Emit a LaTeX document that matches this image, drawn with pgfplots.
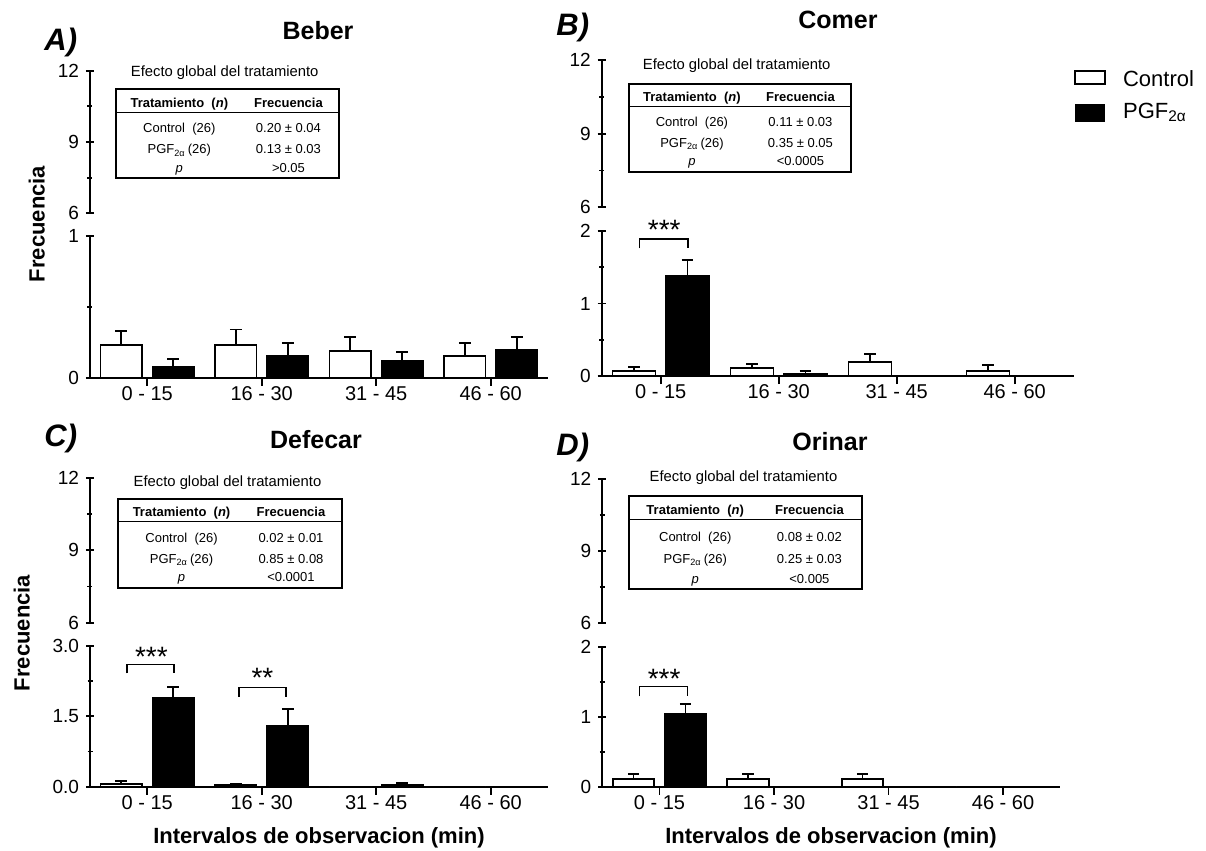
\documentclass[border=0pt]{standalone}
\usepackage{pgfplots}
\pgfplotsset{compat=1.18}
\usepackage{fontspec}
\setmainfont{Liberation Sans}
\newcommand{\fsz}[1]{\fontsize{#1}{#1}\selectfont}

\pgfplotsset{
  brk/.style={
    scale only axis, enlargelimits=false, clip=false,
    every tick/.style={line width=0.9pt, black},
    tick align=outside,
    major tick length=4pt, minor tick length=2.5pt,
    /pgf/number format/assume math mode=true,
    yticklabel style={font=\fsz{9.5}, anchor=east, inner sep=0pt, xshift=-3.3pt},
    xmin=-0.5, xmax=3.5,
  },
  nolinearrows/.style={
    axis line style={-, line width=0.9pt, black},
    every outer x axis line/.append style={-},
    every outer y axis line/.append style={-},
    every inner x axis line/.append style={-},
    every inner y axis line/.append style={-},
    x axis line style={-}, y axis line style={-}},
  up/.style={brk, axis x line=none, axis y line=left, nolinearrows, ymin=6, ymax=12,
     ytick={6,9,12}, minor ytick={7.5,10.5}},
  low/.style={brk, axis x line=bottom, axis y line=left, nolinearrows, ymin=0,
     ybar=5.2pt, bar width=20.8pt,
     xtick={0,1,2,3}, xticklabels={0 - 15,16 - 30,31 - 45,46 - 60},
     xticklabel style={font=\fsz{10}, anchor=north, inner sep=0pt, yshift=0pt}},
  ebar/.style={error bars/y dir=plus, error bars/y explicit,
     error bars/error bar style={line width=0.9pt, black},
     error bars/error mark options={rotate=90, line width=0.9pt, black, mark size=2.9pt}},
  ctl/.style={fill=white, draw=black, line width=0.9pt, ebar},
  trt/.style={fill=black, draw=black, line width=0.9pt, ebar},
}

% table inset: x0 y0 x1 y1 hs ctl pgf p
\newcommand{\tabla}[8]{%
  \draw[line width=1pt] (#1,#2) rectangle (#3,#4);
  \draw[line width=0.5pt] (#1,#5) -- (#3,#5);
  \path[font=\fsz{6.5}]
   ({#1+0.283*(#3-#1)},{#5-5}) node[anchor=base]{\bfseries Tratamiento~~(\textit{n})}
   ({#1+0.773*(#3-#1)},{#5-5}) node[anchor=base]{\bfseries Frecuencia}
   ({#1+0.283*(#3-#1)},{#5+0.31*(#4-#5)}) node[anchor=base]{Control~~(26)}
   ({#1+0.773*(#3-#1)},{#5+0.31*(#4-#5)}) node[anchor=base]{#6}
   ({#1+0.283*(#3-#1)},{#5+0.63*(#4-#5)}) node[anchor=base]{PGF\textsubscript{2α}\,(26)}
   ({#1+0.773*(#3-#1)},{#5+0.63*(#4-#5)}) node[anchor=base]{#7}
   ({#1+0.283*(#3-#1)},{#4-6}) node[anchor=base]{\textit{p}}
   ({#1+0.773*(#3-#1)},{#4-6}) node[anchor=base]{#8};
}

\begin{document}
\begin{tikzpicture}
\path[use as bounding box] (0,0) rectangle (603pt,-425.5pt);

% ---------------- Panel A : Beber ----------------
\begin{axis}[up, at={(45pt,-106.65pt)}, anchor=south west, width=229pt, height=71.3pt]
\end{axis}
\begin{axis}[low, at={(45pt,-188.85pt)}, anchor=south west, width=229pt, height=70.85pt,
  ymax=1, ytick={0,1}, minor ytick={0.5}]
\addplot[ctl] coordinates {(0,0.23) +- (0,0.10) (1,0.23) +- (0,0.11) (2,0.19) +- (0,0.095) (3,0.153) +- (0,0.092)};
\addplot[trt] coordinates {(0,0.078) +- (0,0.055) (1,0.155) +- (0,0.09) (2,0.118) +- (0,0.064) (3,0.195) +- (0,0.095)};
\end{axis}

% ---------------- Panel B : Comer ----------------
\begin{axis}[up, at={(300.85pt,-103.65pt)}, anchor=south west, width=236pt, height=73.65pt]
\end{axis}
\begin{axis}[low, at={(300.85pt,-188pt)}, anchor=south west, width=236pt, height=72.5pt,
  ybar=5.3pt, bar width=21.5pt,
  ymax=2, ytick={0,1,2}, minor ytick={0.5,1.5}]
\addplot[ctl] coordinates {(0,0.073) +- (0,0.055) (1,0.11) +- (0,0.06) (2,0.19) +- (0,0.11) (3,0.073) +- (0,0.083)};
\addplot[trt] coordinates {(0,1.38) +- (0,0.216) (1,0.023) +- (0,0.05) (2,0) +- (0,0) (3,0) +- (0,0)};
\draw[line width=0.75pt] (axis cs:-0.18,1.76) -- (axis cs:-0.18,1.89) -- (axis cs:0.23,1.89) -- (axis cs:0.23,1.76);
\node[font=\fsz{14}, yshift=-3pt] at (axis cs:0.03,2.1) {***};
\end{axis}

% ---------------- Panel C : Defecar ----------------
\begin{axis}[up, at={(45pt,-311.35pt)}, anchor=south west, width=229pt, height=72.5pt]
\end{axis}
\begin{axis}[low, at={(45pt,-393.35pt)}, anchor=south west, width=229pt, height=70.5pt,
  ymax=3, ytick={0,1.5,3}, yticklabels={0.0,1.5,3.0}, minor ytick={0.75,2.25}]
\addplot[ctl] coordinates {(0,0.064) +- (0,0.056) (1,0.03) +- (0,0.04) (2,0) +- (0,0) (3,0) +- (0,0)};
\addplot[trt] coordinates {(0,1.88) +- (0,0.247) (1,1.30) +- (0,0.355) (2,0.035) +- (0,0.04) (3,0) +- (0,0)};
\draw[line width=0.75pt] (axis cs:-0.175,2.41) -- (axis cs:-0.175,2.6) -- (axis cs:0.233,2.6) -- (axis cs:0.233,2.41);
\node[font=\fsz{14}, yshift=-3pt] at (axis cs:0.036,2.9) {***};
\draw[line width=0.75pt] (axis cs:0.80,1.91) -- (axis cs:0.80,2.11) -- (axis cs:1.21,2.11) -- (axis cs:1.21,1.91);
\node[font=\fsz{14}, yshift=-3pt] at (axis cs:1.006,2.44) {**};
\end{axis}

% ---------------- Panel D : Orinar ----------------
\begin{axis}[up, at={(301.15pt,-311.35pt)}, anchor=south west, width=229pt, height=71.7pt]
\end{axis}
\begin{axis}[low, at={(301.15pt,-393.35pt)}, anchor=south west, width=229pt, height=70pt,
  ymax=2, ytick={0,1,2}, minor ytick={0.5,1.5}]
\addplot[ctl] coordinates {(0,0.11) +- (0,0.067) (1,0.11) +- (0,0.067) (2,0.11) +- (0,0.067) (3,0) +- (0,0)};
\addplot[trt] coordinates {(0,1.034) +- (0,0.152) (1,0) +- (0,0) (2,0) +- (0,0) (3,0) +- (0,0)};
\draw[line width=0.75pt] (axis cs:-0.175,1.29) -- (axis cs:-0.175,1.43) -- (axis cs:0.242,1.43) -- (axis cs:0.242,1.29);
\node[font=\fsz{14}, yshift=-3pt] at (axis cs:0.04,1.62) {***};
\end{axis}

\begin{scope}[x=0.5pt,y=-0.5pt]
% ---------------- Inset tables ----------------
\node[font=\fsz{7.4}, anchor=base] at (224.7,76) {Efecto global del tratamiento};
\tabla{116.3}{89.3}{339}{178.3}{112.3}{0.20 ± 0.04}{0.13 ± 0.03}{>0.05}
\node[font=\fsz{7.4}, anchor=base] at (736.7,69.3) {Efecto global del tratamiento};
\tabla{629.3}{84}{850.7}{171.7}{106.7}{0.11 ± 0.03}{0.35 ± 0.05}{<0.0005}
\node[font=\fsz{7.4}, anchor=base] at (227.5,486) {Efecto global del tratamiento};
\tabla{118.3}{499.3}{341.7}{587.7}{521.7}{0.02 ± 0.01}{0.85 ± 0.08}{<0.0001}
\node[font=\fsz{7.4}, anchor=base] at (743.5,481.7) {Efecto global del tratamiento};
\tabla{629.3}{495.7}{862.3}{589.3}{519.3}{0.08 ± 0.02}{0.25 ± 0.03}{<0.005}

% ---------------- Titles and labels ----------------
\node[font=\bfseries\fsz{12.5}] at (318,30.7) {Beber};
\node[font=\bfseries\fsz{12.5}] at (838,20) {Comer};
\node[font=\bfseries\fsz{12.5}] at (316,440) {Defecar};
\node[font=\bfseries\fsz{12.5}] at (830,441.7) {Orinar};
\node[font=\bfseries\itshape\fsz{15.5}, anchor=base west, inner sep=0pt] at (44,50) {A)};
\node[font=\bfseries\itshape\fsz{15.5}, anchor=base west, inner sep=0pt] at (556,35) {B)};
\node[font=\bfseries\itshape\fsz{15.5}, anchor=base west, inner sep=0pt] at (44,446) {C)};
\node[font=\bfseries\itshape\fsz{15.5}, anchor=base west, inner sep=0pt] at (556,455) {D)};
\node[font=\bfseries\fsz{11}, rotate=90] at (36.7,224) {Frecuencia};
\node[font=\bfseries\fsz{11}, rotate=90] at (21.7,633) {Frecuencia};
\node[font=\bfseries\fsz{11}, anchor=base] at (319,843.3) {Intervalos de observacion (min)};
\node[font=\bfseries\fsz{11}, anchor=base] at (831,843.3) {Intervalos de observacion (min)};

% ---------------- Legend ----------------
\draw[line width=0.8pt, fill=white] (1075,71) rectangle (1105,84);
\fill[black] (1075,104) rectangle (1105,122);
\node[font=\fsz{11}, anchor=base west, inner sep=0pt] at (1122.7,86.7) {Control};
\node[font=\fsz{11}, anchor=base west, inner sep=0pt] at (1122.7,118.3) {PGF\textsubscript{2α}};
\end{scope}
\end{tikzpicture}
\end{document}
